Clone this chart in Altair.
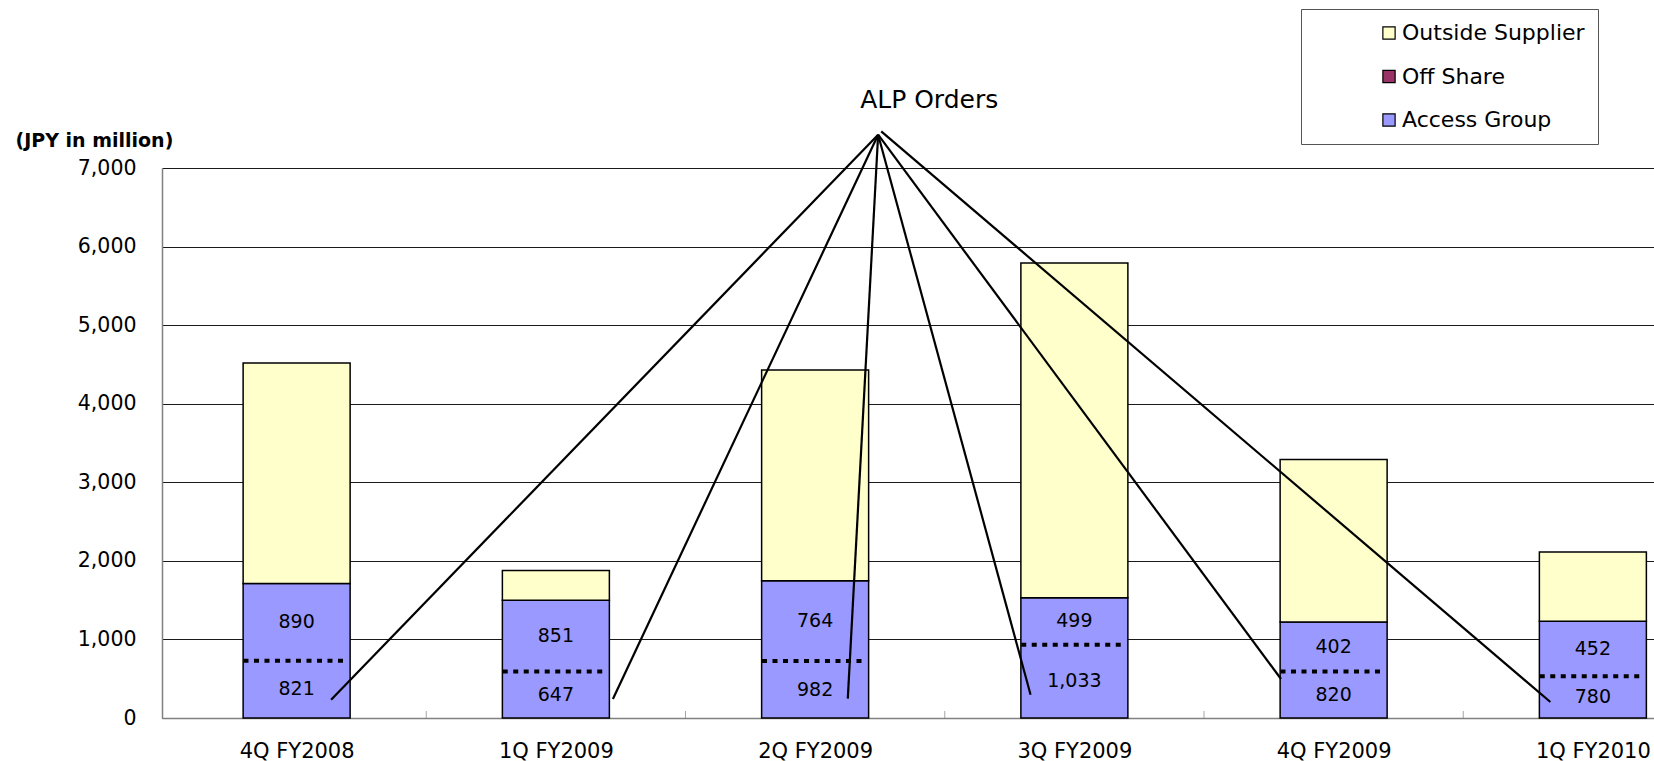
import json

import altair as alt
import pandas as pd

# ---- data (JPY in million) ----
quarters = ["4Q FY2008", "1Q FY2009", "2Q FY2009", "3Q FY2009", "4Q FY2009", "1Q FY2010"]
alp_orders = [821, 647, 982, 1033, 820, 780]          # lower part of Access Group
access_other = [890, 851, 764, 499, 402, 452]         # upper part of Access Group
off_share = [0, 0, 0, 0, 0, 0]
outside_supplier = [2807, 380, 2684, 4259, 2067, 881]
divider_level = [729, 593, 724, 933, 593, 530]        # dotted split inside Access Group

# leader lines from the "ALP Orders" caption to each quarter's ALP figure
# (x in quarter-index units, y in JPY million)
leader_end_x = [0.133, 1.220, 2.126, 2.831, 3.797, 4.836]
leader_end_y = [233, 242, 246, 297, 496, 204]
leader_hub_x = [2.243, 2.243, 2.243, 2.243, 2.243, 2.255]
leader_hub_y = [7424, 7424, 7424, 7424, 7424, 7466]
caption_text = "ALP Orders"
caption_x, caption_y = 2.44, 7870

series_names = ["Outside Supplier", "Off Share", "Access Group"]
series_colors = ["#FFFFCC", "#993366", "#9999FF"]

# ---- layout ----
FONT = "DejaVu Sans"
LEFT, TOP, BOTTOM = 162, 168, 43
PLOT_W, PLOT_H = 1654 - LEFT, 550
BAND = 261            # pixels per quarter
BAR_W = 107

idx = list(range(len(quarters)))
access_total = [a + b for a, b in zip(alp_orders, access_other)]

rows = []
for i in idx:
    lo = 0
    for name, val in (("Access Group", access_total[i]),
                      ("Off Share", off_share[i]),
                      ("Outside Supplier", outside_supplier[i])):
        if val > 0:
            rows.append(dict(i=i, series=name, lo=lo, hi=lo + val))
        lo += val
bars_df = pd.DataFrame(rows)

half = BAR_W / 2 / BAND
div_df = pd.DataFrame({
    "x0": [i - half for i in idx],
    "x1": [i - half + 105 / BAND for i in idx],
    "y": divider_level,
})

labels_df = pd.DataFrame({
    "i": idx * 2,
    "y": [d / 2 for d in divider_level]
         + [(d + t) / 2 for d, t in zip(divider_level, access_total)],
    "txt": [f"{v:,}" for v in alp_orders] + [f"{v:,}" for v in access_other],
})

leader_df = pd.DataFrame({
    "hx": leader_hub_x, "hy": leader_hub_y,
    "ex": leader_end_x, "ey": leader_end_y,
})
caption_df = pd.DataFrame({"x": [caption_x], "y": [caption_y], "txt": [caption_text]})
tick_df = pd.DataFrame({"b": [i + 0.5 for i in idx[:-1]], "y0": [0] * (len(idx) - 1)})

x_scale = alt.Scale(domain=[-0.5, -0.5 + PLOT_W / BAND], nice=False, zero=False)
y_scale = alt.Scale(domain=[0, 7000], nice=False)

x_axis = alt.Axis(
    values=idx,
    labelExpr=f"{json.dumps(quarters)}[datum.value]",
    ticks=False, grid=False,
    domainColor="#808080", domainWidth=1.5,
    labelFont=FONT, labelFontSize=21, labelColor="black",
    labelPadding=22, labelBound=False, labelOverlap=False, labelFlush=False,
    title=None,
)
y_axis = alt.Axis(
    values=list(range(0, 7001, 1000)), format=",.0f",
    grid=True, gridColor="#1a1a1a", gridWidth=1,
    ticks=False, domainColor="#808080", domainWidth=1.5,
    labelFont=FONT, labelFontSize=20.5, labelColor="black", labelPadding=26,
    title="(JPY in million)", titleAngle=0, titleAlign="left", titleBaseline="middle",
    titleX=15 - LEFT, titleY=140 - TOP,
    titleFont=FONT, titleFontSize=19, titleFontWeight="bold", titleColor="black",
)


def X(field):
    return alt.X(field, type="quantitative", scale=x_scale, axis=x_axis)


def Y(field):
    return alt.Y(field, type="quantitative", scale=y_scale, axis=y_axis)


bars = alt.Chart(bars_df).mark_bar(size=BAR_W, stroke="black", strokeWidth=1.5).encode(
    x=X("i"),
    y=Y("lo"),
    y2="hi",
    color=alt.Color(
        "series:N",
        scale=alt.Scale(domain=series_names, range=series_colors),
        legend=alt.Legend(
            orient="none", legendX=1301 - LEFT, legendY=9 - TOP,
            title=None, strokeColor="#555555", fillColor="white",
            padding=13, rowPadding=21.5,
            symbolType="square", symbolSize=150, symbolStrokeColor="black",
            symbolStrokeWidth=1.2, symbolOpacity=1, symbolOffset=64,
            labelOffset=2, labelFont=FONT, labelFontSize=22, labelColor="black",
            labelLimit=400,
        ),
    ),
)

dividers = alt.Chart(div_df).mark_rule(
    color="black", strokeWidth=4, strokeDash=[5, 5.5]
).encode(x=X("x0"), x2="x1", y=Y("y"))

values = alt.Chart(labels_df).mark_text(
    font=FONT, fontSize=19, color="black", baseline="middle"
).encode(x=X("i"), y=Y("y"), text="txt:N")

leaders = alt.Chart(leader_df).mark_rule(color="black", strokeWidth=2.2).encode(
    x=X("hx"), y=Y("hy"), x2="ex", y2="ey"
)

caption = alt.Chart(caption_df).mark_text(
    font=FONT, fontSize=25, color="black", baseline="middle"
).encode(x=X("x"), y=Y("y"), text="txt:N")

cat_ticks = alt.Chart(tick_df).mark_tick(
    orient="vertical", size=7, thickness=1, yOffset=-3.5, color="#808080"
).encode(x=X("b"), y=Y("y0"))

chart = alt.layer(bars, dividers, values, leaders, caption, cat_ticks).properties(
    width=PLOT_W,
    height=PLOT_H,
    autosize=alt.AutoSizeParams(type="none"),
    padding={"left": LEFT, "top": TOP, "right": 0, "bottom": BOTTOM},
    background="white",
).configure(font=FONT).configure_view(stroke=None)

chart.save("out.html", embed_options={"renderer": "svg", "actions": False})
